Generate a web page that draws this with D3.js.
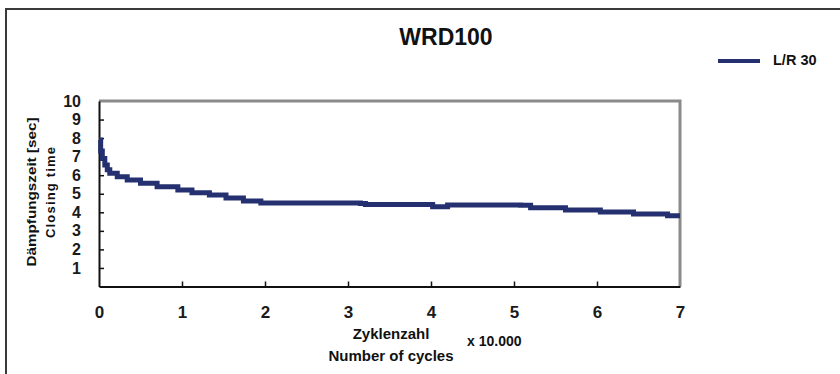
<!DOCTYPE html>
<html>
<head>
<meta charset="utf-8">
<script src="https://cdn.jsdelivr.net/npm/d3@7"></script>
<style>
  body { margin: 0; background: #fff; }
  svg { display: block; font-family: "Liberation Sans", Arial, sans-serif; }
  .tick text { fill: #1a1a1a; }
</style>
</head>
<body>
<svg id="chart" width="840" height="374"></svg>
<script>
// closing time over cycles (x in units of 10.000 cycles)
const cycles = [0, 0.02, 0.04, 0.07, 0.1, 0.13, 0.22, 0.34, 0.5, 0.7, 0.95, 1.12, 1.33, 1.53, 1.74, 1.95,
                3.15, 3.21, 4.02, 4.2, 5.08, 5.2, 5.62, 6.04, 6.44, 6.85, 7.0];
const closingTime = [7.9, 7.3, 6.9, 6.55, 6.3, 6.1, 5.92, 5.74, 5.56, 5.38, 5.2, 5.06, 4.93, 4.77, 4.61, 4.5,
                     4.47, 4.42, 4.3, 4.4, 4.38, 4.25, 4.12, 4.02, 3.91, 3.82, 3.82];
const xTicks = [0, 1, 2, 3, 4, 5, 6, 7];
const yTicks = [1, 2, 3, 4, 5, 6, 7, 8, 9, 10];
const seriesName = 'L/R 30';

const svg = d3.select('#chart');
const lineColor = '#24306f';

// outer frame
svg.append('rect')
  .attr('x', 6).attr('y', 9).attr('width', 900).attr('height', 500)
  .attr('fill', 'none').attr('stroke', '#3a3a3a').attr('stroke-width', 2);

const plot = { left: 99, right: 680, top: 101, bottom: 286.5 };

const x = d3.scaleLinear().domain([0, 7]).range([plot.left, plot.right]);
const y = d3.scaleLinear().domain([0, 10]).range([plot.bottom, plot.top]);

// top / right frame (gray)
svg.append('path')
  .attr('d', `M${plot.left},${plot.top}H${plot.right}V${plot.bottom}`)
  .attr('fill', 'none').attr('stroke', '#8a8a8a').attr('stroke-width', 3);

// y axis, ticks pointing inward
const yAxis = svg.append('g')
  .attr('transform', `translate(${plot.left},0)`)
  .call(d3.axisLeft(y).tickValues(yTicks).tickFormat(d3.format('d'))
    .tickSizeInner(-5).tickSizeOuter(0).tickPadding(18));
yAxis.select('.domain').attr('stroke', '#111').attr('stroke-width', 2);
yAxis.selectAll('.tick line').attr('stroke', '#111').attr('stroke-width', 1.5)
  .attr('display', d => d === 10 ? 'none' : null);
yAxis.selectAll('.tick text').attr('font-size', 16).attr('font-weight', 'bold').attr('x', -18);

// x axis, ticks pointing up
const xAxis = svg.append('g')
  .attr('transform', `translate(0,${plot.bottom})`)
  .call(d3.axisBottom(x).tickValues(xTicks).tickFormat(d3.format('d'))
    .tickSizeInner(-5).tickSizeOuter(0));
xAxis.select('.domain').attr('stroke', '#111').attr('stroke-width', 2);
xAxis.selectAll('.tick line').attr('stroke', '#111').attr('stroke-width', 1.5)
  .attr('display', d => (d === 0 || d === 7) ? 'none' : null);
xAxis.selectAll('.tick text').attr('font-size', 17).attr('font-weight', 'bold')
  .attr('y', 31.5).attr('dy', 0);

// data line
const data = cycles.map((c, i) => ({ c, t: closingTime[i] }));
const line = d3.line()
  .x(d => x(d.c))
  .y(d => y(d.t))
  .curve(d3.curveStepAfter);

svg.append('path')
  .datum(data)
  .attr('d', line)
  .attr('fill', 'none')
  .attr('stroke', lineColor)
  .attr('stroke-width', 5);

// title
svg.append('text')
  .attr('x', 446).attr('y', 45)
  .attr('text-anchor', 'middle')
  .attr('font-size', 23).attr('font-weight', 'bold').attr('fill', '#111')
  .text('WRD100');

// legend
svg.append('line')
  .attr('x1', 718).attr('x2', 760).attr('y1', 61).attr('y2', 61)
  .attr('stroke', lineColor).attr('stroke-width', 4);
svg.append('text')
  .attr('x', 773).attr('y', 65)
  .attr('font-size', 14.5).attr('font-weight', 'bold').attr('fill', '#111')
  .text(seriesName);

// y axis titles
svg.append('text')
  .attr('transform', 'translate(36,192) rotate(-90)')
  .attr('text-anchor', 'middle')
  .attr('font-size', 13).attr('font-weight', 'bold').attr('fill', '#111')
  .attr('textLength', 149).attr('lengthAdjust', 'spacingAndGlyphs')
  .text('Dämpfungszeit [sec]');
svg.append('text')
  .attr('transform', 'translate(55,192.5) rotate(-90)')
  .attr('text-anchor', 'middle')
  .attr('font-size', 13).attr('font-weight', 'bold').attr('fill', '#111')
  .attr('textLength', 91).attr('lengthAdjust', 'spacing')
  .text('Closing time');

// x axis titles
svg.append('text')
  .attr('x', 391).attr('y', 339)
  .attr('text-anchor', 'middle')
  .attr('font-size', 15).attr('font-weight', 'bold').attr('fill', '#111')
  .text('Zyklenzahl');
svg.append('text')
  .attr('x', 391).attr('y', 361)
  .attr('text-anchor', 'middle')
  .attr('font-size', 15).attr('font-weight', 'bold').attr('fill', '#111')
  .text('Number of cycles');
svg.append('text')
  .attr('x', 467).attr('y', 346)
  .attr('font-size', 14).attr('font-weight', 'bold').attr('fill', '#111')
  .attr('font-family', '"Liberation Sans Narrow", "Liberation Sans", Arial, sans-serif')
  .text('x 10.000');
</script>
</body>
</html>
